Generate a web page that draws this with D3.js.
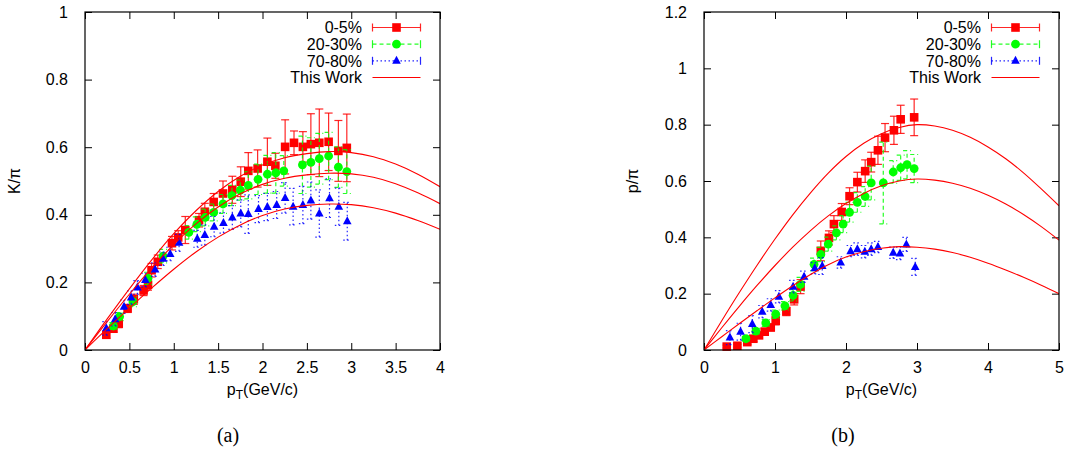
<!DOCTYPE html>
<html><head><meta charset="utf-8">
<script src="https://cdn.jsdelivr.net/npm/d3@7"></script>
<style>
html,body{margin:0;padding:0;background:#fff;}
svg{display:block;font-family:"Liberation Sans",Arial,sans-serif;}
</style></head>
<body>
<svg id="chart" width="1073" height="451"></svg>
<script>
// ---------- Data: panel (a) K/pi ----------
const kRedX   = [0.24,0.32,0.38,0.48,0.55,0.66,0.71,0.75,0.82,0.98,1.05,1.13,1.285,1.35,1.45,1.555,1.66,1.755,1.84,1.945,2.055,2.145,2.255,2.355,2.455,2.545,2.64,2.745,2.855,2.95];
const kRedY   = [0.045,0.063,0.078,0.123,0.15,0.176,0.193,0.236,0.261,0.316,0.333,0.355,0.384,0.409,0.438,0.463,0.474,0.498,0.530,0.537,0.557,0.545,0.601,0.613,0.601,0.609,0.613,0.616,0.589,0.598];
const kRedE   = [0.01,0.01,0.012,0.012,0.015,0.015,0.016,0.02,0.02,0.02,0.02,0.04,0.02,0.025,0.025,0.037,0.04,0.044,0.054,0.055,0.07,0.037,0.08,0.035,0.045,0.09,0.1,0.085,0.09,0.1];

const kGreenX = [0.32,0.39,0.54,0.71,0.88,1.17,1.26,1.355,1.45,1.555,1.655,1.75,1.84,1.95,2.055,2.15,2.24,2.45,2.545,2.64,2.745,2.855,2.95];
const kGreenY = [0.071,0.099,0.143,0.212,0.278,0.348,0.372,0.392,0.407,0.432,0.457,0.473,0.487,0.505,0.52,0.524,0.53,0.548,0.555,0.566,0.574,0.541,0.528];
const kGreenE = [0.01,0.012,0.015,0.018,0.02,0.02,0.022,0.025,0.025,0.028,0.03,0.03,0.04,0.045,0.056,0.06,0.045,0.085,0.073,0.075,0.07,0.06,0.065];

const kBlueX  = [0.24,0.34,0.44,0.52,0.59,0.68,0.79,0.88,0.96,1.06,1.265,1.35,1.455,1.56,1.66,1.755,1.84,1.955,2.055,2.16,2.255,2.345,2.455,2.545,2.64,2.755,2.86,2.955];
const kBlueY  = [0.064,0.091,0.128,0.155,0.185,0.207,0.238,0.27,0.284,0.317,0.329,0.34,0.365,0.376,0.392,0.404,0.402,0.417,0.423,0.429,0.45,0.424,0.429,0.442,0.404,0.449,0.424,0.381];
const kBlueE  = [0.02,0.02,0.02,0.02,0.02,0.02,0.02,0.02,0.02,0.025,0.025,0.03,0.03,0.03,0.035,0.04,0.057,0.04,0.04,0.04,0.045,0.054,0.055,0.055,0.07,0.057,0.055,0.056];

const kCurveX    = [0,0.25,0.5,0.75,1,1.25,1.5,1.75,2,2.25,2.5,2.75,3,3.25,3.5,3.75,4];
const kCurveTop  = [0,0.092,0.181,0.266,0.344,0.412,0.469,0.514,0.547,0.569,0.581,0.587,0.584,0.572,0.55,0.52,0.483];
const kCurveMid  = [0,0.084,0.165,0.242,0.312,0.373,0.423,0.462,0.49,0.508,0.518,0.523,0.521,0.511,0.492,0.465,0.433];
const kCurveLow  = [0,0.063,0.124,0.183,0.239,0.29,0.334,0.37,0.398,0.417,0.428,0.432,0.43,0.421,0.405,0.383,0.357];

// ---------- Data: panel (b) p/pi ----------
const pRedX   = [0.32,0.47,0.61,0.695,0.775,0.855,0.94,1.01,1.16,1.27,1.36,1.645,1.76,1.83,1.94,2.05,2.16,2.27,2.355,2.45,2.55,2.675,2.77,2.96];
const pRedY   = [0.012,0.015,0.028,0.040,0.052,0.065,0.080,0.104,0.137,0.18,0.225,0.352,0.398,0.447,0.49,0.546,0.596,0.635,0.667,0.709,0.754,0.78,0.819,0.826];
const pRedE   = [0.005,0.005,0.008,0.01,0.01,0.012,0.012,0.015,0.015,0.02,0.025,0.035,0.025,0.03,0.03,0.03,0.035,0.04,0.035,0.05,0.05,0.05,0.05,0.065];

const pGreenX = [0.59,0.73,0.87,1.01,1.14,1.255,1.36,1.55,1.645,1.75,1.865,1.96,2.05,2.16,2.27,2.355,2.525,2.665,2.77,2.86,2.96];
const pGreenY = [0.040,0.067,0.096,0.127,0.157,0.194,0.233,0.304,0.339,0.376,0.416,0.447,0.489,0.524,0.545,0.593,0.593,0.632,0.647,0.658,0.644];
const pGreenE = [0.008,0.01,0.012,0.015,0.015,0.02,0.025,0.022,0.025,0.025,0.025,0.03,0.035,0.035,0.035,0.06,0.145,0.04,0.045,0.05,0.05];

const pBlueX  = [0.365,0.515,0.68,0.82,0.94,1.055,1.255,1.41,1.56,1.665,1.925,2.065,2.16,2.265,2.355,2.45,2.665,2.76,2.85,2.975];
const pBlueY  = [0.044,0.065,0.092,0.136,0.160,0.189,0.225,0.26,0.29,0.298,0.311,0.351,0.358,0.349,0.358,0.366,0.345,0.343,0.375,0.295];
const pBlueE  = [0.025,0.03,0.03,0.022,0.022,0.022,0.022,0.02,0.02,0.03,0.02,0.02,0.022,0.022,0.022,0.02,0.02,0.022,0.025,0.03];

const pCurveX    = [0,0.25,0.5,0.75,1,1.25,1.5,1.75,2,2.25,2.5,2.75,3,3.25,3.5,3.75,4,4.25,4.5,4.75,5];
const pCurveTop  = [0,0.104,0.205,0.302,0.394,0.48,0.558,0.628,0.687,0.734,0.768,0.79,0.80,0.795,0.78,0.755,0.721,0.679,0.629,0.572,0.512];
const pCurveMid  = [0,0.079,0.156,0.23,0.30,0.365,0.424,0.476,0.52,0.556,0.583,0.60,0.607,0.603,0.592,0.574,0.549,0.518,0.481,0.438,0.39];
const pCurveLow  = [0,0.047,0.094,0.14,0.185,0.228,0.268,0.303,0.33,0.349,0.361,0.367,0.365,0.358,0.346,0.329,0.308,0.284,0.258,0.23,0.2];

// ---------- Labels ----------
const seriesNames = ["0-5%","20-30%","70-80%","This Work"];
const kXTicks = [0,0.5,1,1.5,2,2.5,3,3.5,4];
const kYTicks = [0,0.2,0.4,0.6,0.8,1];
const pXTicks = [0,1,2,3,4,5];
const pYTicks = [0,0.2,0.4,0.6,0.8,1,1.2];

// ---------- Drawing ----------
const svg = d3.select("#chart");
const RED="#ff0000", GREEN="#00ff00", BLUE="#0000ff";

function zip(xs,ys,es){return xs.map((x,i)=>({x:x,y:ys[i],e:es?es[i]:0}));}

function panel(opt){
  const x = d3.scaleLinear().domain(opt.xDomain).range([opt.left,opt.right]);
  const y = d3.scaleLinear().domain(opt.yDomain).range([opt.bottom,opt.top]);
  const g = svg.append("g");
  const clipId = "clip"+opt.id;
  svg.append("clipPath").attr("id",clipId).append("rect")
     .attr("x",opt.left).attr("y",opt.top).attr("width",opt.right-opt.left).attr("height",opt.bottom-opt.top);

  // axes with inward ticks, all four sides
  const tl = 7;
  const axB = d3.axisBottom(x).tickValues(opt.xTicks).tickSize(-tl).tickPadding(10+tl).tickFormat(d3.format("~g"));
  const axT = d3.axisTop(x).tickValues(opt.xTicks).tickSize(-tl).tickFormat("");
  const axL = d3.axisLeft(y).tickValues(opt.yTicks).tickSize(-tl).tickPadding(10+tl).tickFormat(d3.format("~g"));
  const axR = d3.axisRight(y).tickValues(opt.yTicks).tickSize(-tl).tickFormat("");
  const sty = s=>{s.select(".domain").remove();s.selectAll(".tick line").attr("stroke","#000").attr("stroke-width",1);
                  s.selectAll("text").attr("font-size",16).attr("fill","#000").attr("font-family","'Liberation Sans',Arial,sans-serif");};
  g.append("g").attr("transform",`translate(0,${opt.bottom})`).call(axB).call(sty)
    .selectAll("text").attr("dy","0.35em").attr("y",17);
  g.append("g").attr("transform",`translate(0,${opt.top})`).call(axT).call(sty);
  g.append("g").attr("transform",`translate(${opt.left},0)`).call(axL).call(sty);
  g.append("g").attr("transform",`translate(${opt.right},0)`).call(axR).call(sty);

  // error bars + markers
  const styles = [
    {c:RED,dash:null,shape:"sq"},
    {c:GREEN,dash:"4,3",shape:"ci"},
    {c:BLUE,dash:"1.5,2.5",shape:"tr"}
  ];
  const cap = 4;
  opt.series.forEach((data,si)=>{
    const st = styles[si];
    const eg = g.append("g").attr("stroke",st.c).attr("stroke-width",1.2).attr("stroke-opacity",0.85)
                .attr("stroke-dasharray",st.dash);
    data.forEach(d=>{
      const xp=x(d.x), y1=y(d.y-d.e), y2=y(d.y+d.e);
      eg.append("line").attr("x1",xp).attr("x2",xp).attr("y1",y1).attr("y2",y2);
      eg.append("line").attr("x1",xp-cap).attr("x2",xp+cap).attr("y1",y1).attr("y2",y1);
      eg.append("line").attr("x1",xp-cap).attr("x2",xp+cap).attr("y1",y2).attr("y2",y2);
    });
    const mg = g.append("g").attr("fill",st.c);
    data.forEach(d=>drawMarker(mg,st.shape,x(d.x),y(d.y)));
  });

  // theory curves
  const line = d3.line().x(d=>x(d.x)).y(d=>y(d.y)).curve(d3.curveCatmullRom.alpha(0.5));
  opt.curves.forEach(c=>{
    g.append("path").attr("d",line(c)).attr("fill","none").attr("stroke",RED).attr("stroke-width",1.1)
     .attr("clip-path",`url(#${clipId})`);
  });

  // frame
  g.append("rect").attr("x",opt.left).attr("y",opt.top).attr("width",opt.right-opt.left)
   .attr("height",opt.bottom-opt.top).attr("fill","none").attr("stroke","#000").attr("stroke-width",1.2);

  // legend
  const rows=[27.5,44.2,60.8,77.5];
  const lx0 = opt.left+287.5, lx1 = opt.left+335.5, lm = opt.left+311.5, ltx = opt.left+277;
  seriesNames.forEach((nm,i)=>{
    g.append("text").attr("x",ltx).attr("y",rows[i]).attr("dy","0.36em").attr("text-anchor","end")
     .attr("font-size",16).attr("fill","#000").text(nm);
    if(i<3){
      const st=styles[i];
      const lg=g.append("g").attr("stroke",st.c).attr("stroke-width",1.2).attr("stroke-opacity",0.85);
      lg.append("line").attr("x1",lx0).attr("x2",lx1).attr("y1",rows[i]).attr("y2",rows[i]).attr("stroke-dasharray",st.dash);
      lg.append("line").attr("x1",lx0).attr("x2",lx0).attr("y1",rows[i]-4).attr("y2",rows[i]+4);
      lg.append("line").attr("x1",lx1).attr("x2",lx1).attr("y1",rows[i]-4).attr("y2",rows[i]+4);
      drawMarker(g.append("g").attr("fill",st.c),st.shape,lm,rows[i]);
    } else {
      g.append("line").attr("x1",lx0).attr("x2",lx1).attr("y1",rows[i]).attr("y2",rows[i])
       .attr("stroke",RED).attr("stroke-width",1.1);
    }
  });

  // axis labels
  const xl = g.append("text").attr("x",(opt.left+opt.right)/2).attr("y",395).attr("text-anchor","middle")
    .attr("font-size",16).attr("fill","#000");
  xl.append("tspan").text("p");
  xl.append("tspan").attr("font-size",12).attr("dy",4).text("T");
  xl.append("tspan").attr("dy",-4).text("(GeV/c)");
  g.append("text").attr("transform",`translate(${opt.ylabX},181) rotate(-90)`).attr("text-anchor","middle")
    .attr("font-size",16).attr("fill","#000").text(opt.ylab);
  g.append("text").attr("x",opt.capX).attr("y",442).attr("text-anchor","middle")
    .attr("font-family","'Liberation Serif','DejaVu Serif',serif").attr("font-size",20).attr("fill","#000").text(opt.cap);
}

function drawMarker(g,shape,cx,cy){
  if(shape==="sq") g.append("rect").attr("x",cx-4.3).attr("y",cy-4.3).attr("width",8.6).attr("height",8.6);
  else if(shape==="ci") g.append("circle").attr("cx",cx).attr("cy",cy).attr("r",4.4);
  else g.append("path").attr("d",`M${cx},${cy-5} L${cx+4.3},${cy+3} L${cx-4.3},${cy+3} Z`);
}

function curvePts(xs,ys){return xs.map((x,i)=>({x:x,y:ys[i]}));}

panel({id:"a",left:85,right:440,top:12,bottom:350,xDomain:[0,4],yDomain:[0,1],
  xTicks:kXTicks,yTicks:kYTicks,ylab:"K/π",ylabX:20,cap:"(a)",capX:228,
  series:[zip(kRedX,kRedY,kRedE),zip(kGreenX,kGreenY,kGreenE),zip(kBlueX,kBlueY,kBlueE)],
  curves:[curvePts(kCurveX,kCurveTop),curvePts(kCurveX,kCurveMid),curvePts(kCurveX,kCurveLow)]});

panel({id:"b",left:704,right:1059,top:12,bottom:350,xDomain:[0,5],yDomain:[0,1.2],
  xTicks:pXTicks,yTicks:pYTicks,ylab:"p/π",ylabX:638,cap:"(b)",capX:843,
  series:[zip(pRedX,pRedY,pRedE),zip(pGreenX,pGreenY,pGreenE),zip(pBlueX,pBlueY,pBlueE)],
  curves:[curvePts(pCurveX,pCurveTop),curvePts(pCurveX,pCurveMid),curvePts(pCurveX,pCurveLow)]});
</script>
</body></html>
